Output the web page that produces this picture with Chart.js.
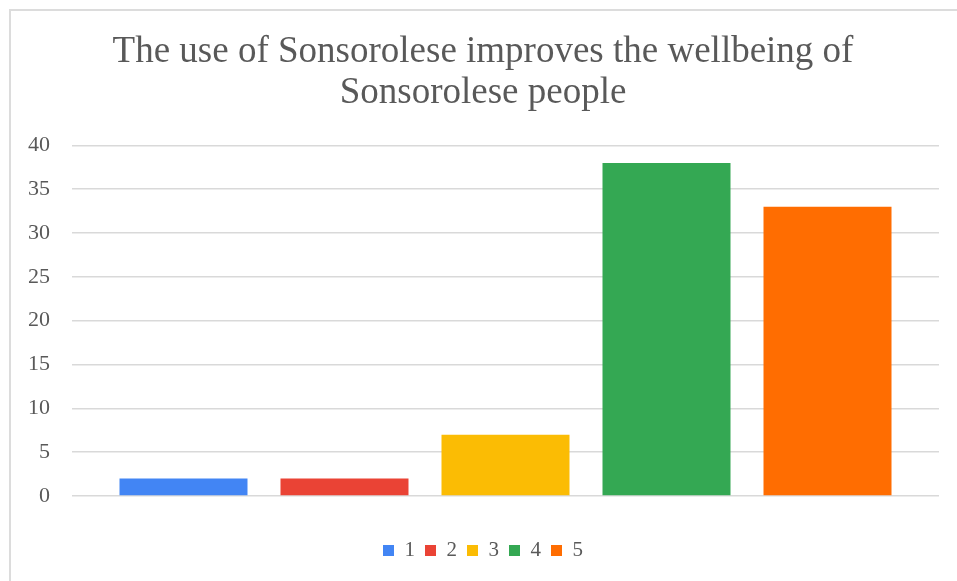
<!DOCTYPE html>
<html>
<head>
<meta charset="utf-8">
<script src="https://cdn.jsdelivr.net/npm/chart.js@4"></script>
<style>
  html, body { margin: 0; padding: 0; background: #fff; }
  #wrap { position: relative; width: 957px; height: 581px; }
  #frame {
    position: absolute; left: 9px; top: 9px; width: 960px; height: 590px;
    border-left: 2px solid #dcdcdc; border-top: 2px solid #dcdcdc;
    box-sizing: border-box; pointer-events: none;
  }
</style>
</head>
<body>
<div id="wrap">
  <canvas id="surveyChart" width="957" height="581"></canvas>
  <div id="frame"></div>
</div>
<script>
// Survey answers (rating 1-5) and how many people picked each
const ratings = ["1", "2", "3", "4", "5"];
const counts = [2, 2, 7, 38, 33];
const barColors = ["#4285F4", "#EA4335", "#FBBC04", "#34A853", "#FF6D01"];
const titleLines = ["The use of Sonsorolese improves the wellbeing of", "Sonsorolese people"];

const serif = "'Liberation Serif', 'Times New Roman', serif";
const textColor = "#595959";

// one dataset per rating so the legend lists each of them
const datasets = ratings.map((r, i) => ({
  label: r,
  data: [counts[i]],
  backgroundColor: barColors[i],
  borderWidth: 0,
  categoryPercentage: 0.9285,
  barPercentage: 0.795,
}));

new Chart(document.getElementById("surveyChart"), {
  type: "bar",
  data: { labels: [""], datasets: datasets },
  options: {
    responsive: false,
    animation: false,
    layout: { padding: { left: 27, right: 18, top: 10, bottom: 10 } },
    plugins: {
      title: {
        display: true,
        text: titleLines,
        color: textColor,
        font: { family: serif, size: 37, weight: "normal", lineHeight: 1.1 },
        padding: { top: 22, bottom: 32 },
      },
      legend: {
        position: "bottom",
        labels: {
          color: textColor,
          font: { family: serif, size: 21 },
          boxWidth: 11,
          boxHeight: 11,
          padding: 10,
        },
      },
      tooltip: { enabled: false },
    },
    scales: {
      x: {
        grid: { display: false },
        border: { display: false },
        ticks: { display: false },
        afterFit: function (scale) {
          scale.height = 34;
        },
      },
      y: {
        min: 0,
        max: 40,
        ticks: {
          stepSize: 5,
          color: textColor,
          font: { family: serif, size: 22 },
          padding: 22,
        },
        grid: { color: "#d9d9d9", lineWidth: 1.5, drawTicks: false },
        border: { display: false },
        // fixed width so the plot starts at x=72
        afterFit: function (scale) {
          scale.width = 45;
        },
      },
    },
  },
});
</script>
</body>
</html>
